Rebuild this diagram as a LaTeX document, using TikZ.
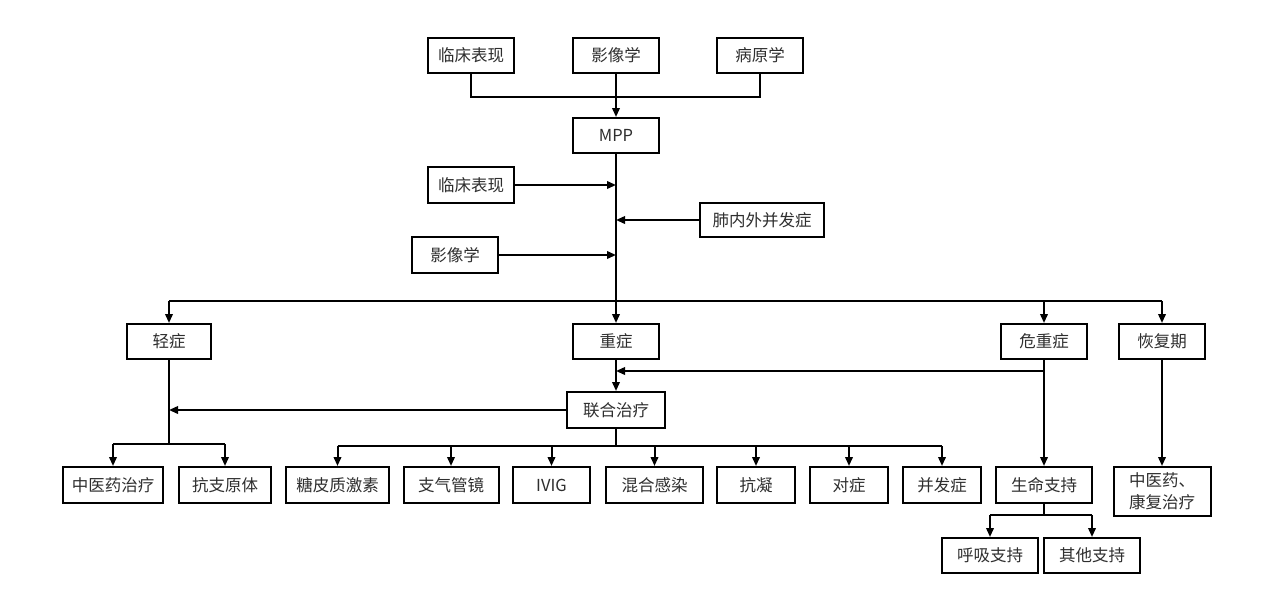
\documentclass[tikz,border=0pt]{standalone}
\usepackage{fontspec}
\setmainfont{Noto Sans CJK SC}
\usetikzlibrary{arrows.meta}
\definecolor{txt}{HTML}{2E2E2E}
\tikzset{
  box/.style={draw=black, line width=2pt, fill=white, inner sep=0pt,
    minimum height=35pt, text=txt, font=\fontsize{16.5pt}{22pt}\selectfont, align=center},
  conn/.style={line width=2pt, draw=black},
  arr/.style={conn, -{Triangle[length=9pt,width=7.5pt]}}
}
\begin{document}
\begin{tikzpicture}[x=1pt,y=-1pt]
\useasboundingbox[fill=white] (0,0) rectangle (1277,611);
% top
\node[box, minimum width=86pt] (tlc) at (471,55.5) {临床表现};
\node[box, minimum width=86pt] (tyx) at (616,55.5) {影像学};
\node[box, minimum width=86pt] (tby) at (760,55.5) {病原学};
\node[box, minimum width=86pt] (mpp) at (616,135.5) {MPP};
\node[box, minimum width=86pt, minimum height=36pt] (lc2) at (471,185) {临床表现};
\node[box, minimum width=124pt, minimum height=34pt] (fnw) at (762,220) {肺内外并发症};
\node[box, minimum width=86pt, minimum height=36pt] (yx2) at (455,255) {影像学};
% level 2
\node[box, minimum width=84pt] (qz) at (169,341.5) {轻症};
\node[box, minimum width=86pt] (zz) at (616,341.5) {重症};
\node[box, minimum width=86pt] (wzz) at (1044,341.5) {危重症};
\node[box, minimum width=86pt] (hfq) at (1162,341.5) {恢复期};
\node[box, minimum width=98pt, minimum height=36pt] (lhzl) at (616,410) {联合治疗};
% bottom row
\node[box, minimum width=100pt, minimum height=36pt] (zyy) at (113,485) {中医药治疗};
\node[box, minimum width=92pt, minimum height=36pt] (kzy) at (225,485) {抗支原体};
\node[box, minimum width=103pt, minimum height=36pt] (tpz) at (337.5,485) {糖皮质激素};
\node[box, minimum width=95pt, minimum height=36pt] (zqg) at (451,485) {支气管镜};
\node[box, minimum width=77pt, minimum height=36pt] (ivig) at (551.5,485) {IVIG};
\node[box, minimum width=97pt, minimum height=36pt] (hhgr) at (654.5,485) {混合感染};
\node[box, minimum width=78pt, minimum height=36pt] (kn) at (756,485) {抗凝};
\node[box, minimum width=78pt, minimum height=36pt] (dz) at (849,485) {对症};
\node[box, minimum width=78pt, minimum height=36pt] (bfz) at (942,485) {并发症};
\node[box, minimum width=96pt, minimum height=36pt] (smzc) at (1044,485) {生命支持};
\node[box, minimum width=97pt, minimum height=49pt] (zyykf) at (1162,491.5) {中医药、\\康复治疗};
\node[box, minimum width=96pt] (hxzc) at (990,555.5) {呼吸支持};
\node[box, minimum width=96pt] (qtzc) at (1092,555.5) {其他支持};
% coordinates
\coordinate (topbar) at (616,97);
\coordinate (bar) at (616,301);
\coordinate (j1) at (1044,371);
\coordinate (qbar) at (169,444);
\coordinate (lbar) at (616,446);
\coordinate (sbar) at (1044,515);
% connectors top
\draw[conn] (tlc.south) |- (topbar) -| (tby.south);
\draw[arr] (tyx.south) -- (mpp.north);
\draw[arr] (mpp.south) -- (zz.north);
\draw[arr] (lc2.east) -- (lc2.east -| mpp.south);
\draw[arr] (fnw.west) -- (fnw.west -| mpp.south);
\draw[arr] (yx2.east) -- (yx2.east -| mpp.south);
% main bar
\draw[conn] (bar -| qz.north) -- (bar -| hfq.north);
\draw[arr] (bar -| qz.north) -- (qz.north);
\draw[arr] (bar -| wzz.north) -- (wzz.north);
\draw[arr] (bar -| hfq.north) -- (hfq.north);
% severe
\draw[arr] (zz.south) -- (lhzl.north);
\draw[arr] (wzz.south) -- (smzc.north);
\draw[arr] (j1) -- (j1 -| zz.south);
\draw[arr] (lhzl.west) -- (lhzl.west -| qz.south);
% mild
\draw[conn] (qz.south) -- (qbar);
\draw[conn] (qbar -| zyy.north) -- (qbar -| kzy.north);
\draw[arr] (qbar -| zyy.north) -- (zyy.north);
\draw[arr] (qbar -| kzy.north) -- (kzy.north);
% combined therapy
\draw[conn] (lhzl.south) -- (lbar);
\draw[conn] (lbar -| tpz.north) -- (lbar -| bfz.north);
\foreach \n in {tpz,zqg,ivig,hhgr,kn,dz,bfz}{
  \draw[arr] (lbar -| \n.north) -- (\n.north);
}
% recovery
\draw[arr] (hfq.south) -- (zyykf.north);
% life support
\draw[conn] (smzc.south) -- (sbar);
\draw[conn] (sbar -| hxzc.north) -- (sbar -| qtzc.north);
\draw[arr] (sbar -| hxzc.north) -- (hxzc.north);
\draw[arr] (sbar -| qtzc.north) -- (qtzc.north);
\end{tikzpicture}
\end{document}
